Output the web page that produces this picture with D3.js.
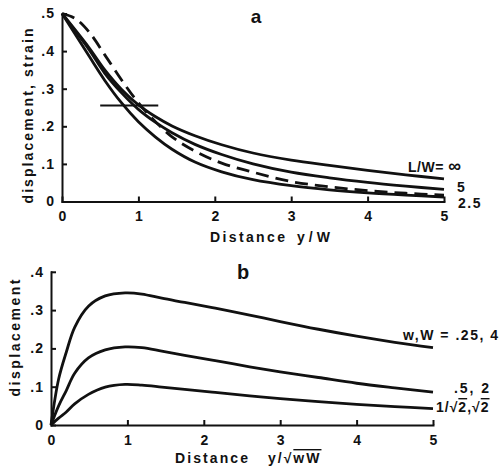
<!DOCTYPE html>
<html><head><meta charset="utf-8">
<script src="https://cdn.jsdelivr.net/npm/d3@7"></script>
<style>
body{margin:0;background:#fff;}
text{font-family:"Liberation Sans",Arial,Helvetica,sans-serif;font-weight:bold;fill:#111;}
</style></head>
<body><svg id="c" width="500" height="467"></svg>
<script>
// ---- Panel a data ----
const aX = [0, 0.35, 0.56, 0.78, 1.0, 1.22, 1.44, 1.74, 2.09, 2.5, 3, 3.5, 4, 4.5, 5];
const aInf = [0.5, 0.41, 0.35, 0.298, 0.257, 0.226, 0.201, 0.175, 0.151, 0.129, 0.11, 0.096, 0.083, 0.071, 0.06];
const a5   = [0.5, 0.405, 0.341, 0.289, 0.245, 0.211, 0.183, 0.152, 0.125, 0.1, 0.078, 0.063, 0.051, 0.041, 0.032];
const a25  = [0.5, 0.388, 0.322, 0.262, 0.212, 0.172, 0.139, 0.105, 0.079, 0.058, 0.042, 0.031, 0.023, 0.017, 0.012];
const aDashX = [0, 0.17, 0.35, 0.56, 0.78, 0.955, 1.13, 1.44, 1.74, 2.09, 2.5, 3, 3.5, 4, 4.5, 5];
const aDashY = [0.5, 0.487, 0.452, 0.39, 0.323, 0.274, 0.232, 0.172, 0.134, 0.102, 0.078, 0.053, 0.039, 0.029, 0.022, 0.017];
const aBar = {x0: 0.5, x1: 1.26, y: 0.255};
const aYTicks = [0, 0.1, 0.2, 0.3, 0.4, 0.5];
const aXTicks = [0, 1, 2, 3, 4, 5];
const aLabels = ["L/W= \u221E", "5", "2.5"];

// ---- Panel b data ----
const bX = [0, 0.1, 0.2, 0.31, 0.49, 0.71, 0.97, 1.19, 1.45, 1.75, 2.15, 2.6, 3, 3.5, 4, 4.5, 5];
const bTop = [0, 0.12, 0.19, 0.255, 0.31, 0.337, 0.345, 0.342, 0.331, 0.32, 0.305, 0.287, 0.27, 0.25, 0.232, 0.216, 0.202];
const bMid = [0, 0.05, 0.09, 0.135, 0.175, 0.196, 0.204, 0.202, 0.193, 0.182, 0.168, 0.152, 0.139, 0.124, 0.109, 0.097, 0.086];
const bBot = [0, 0.018, 0.034, 0.055, 0.08, 0.099, 0.106, 0.104, 0.099, 0.093, 0.085, 0.076, 0.069, 0.061, 0.054, 0.048, 0.043];
const bYTicks = [0, 0.1, 0.2, 0.3, 0.4];
const bXTicks = [0, 1, 2, 3, 4, 5];

const fmt = v => v === 0 ? "0" : d3.format(".1f")(v).replace(/^0/, "");
const svg = d3.select("#c");

function panel(g, xs, ys, xTicks, yTicks) {
  g.append("g").attr("transform", `translate(0,${ys(0)})`)
    .call(d3.axisBottom(xs).tickValues(xTicks).tickSizeInner(-5).tickSizeOuter(0).tickPadding(10).tickFormat(d3.format("d")))
    .call(s => { s.selectAll("path,line").attr("stroke", "#111").attr("stroke-width", 2);
                 s.selectAll("text").attr("font-size", 14).style("font-family", null); });
  g.append("g").attr("transform", `translate(${xs(0)},0)`)
    .call(d3.axisLeft(ys).tickValues(yTicks).tickSizeInner(-5).tickSizeOuter(0).tickPadding(7).tickFormat(fmt))
    .call(s => { s.selectAll("path,line").attr("stroke", "#111").attr("stroke-width", 2);
                 s.selectAll("text").attr("font-size", 14).attr("letter-spacing", 1); });
  g.selectAll(".domain").attr("stroke-linecap", "square");
}

// ---- Panel a ----
const xa = d3.scaleLinear().domain([0, 5]).range([62, 444]);
const ya = d3.scaleLinear().domain([0, 0.5]).range([201.5, 13.5]);
const ga = svg.append("g");
panel(ga, xa, ya, aXTicks, aYTicks);
const la = d3.line().x(d => xa(d[0])).y(d => ya(d[1])).curve(d3.curveCatmullRom.alpha(0.5));
[aInf, a5, a25].forEach(s => {
  ga.append("path").attr("d", la(aX.map((x, i) => [x, s[i]])))
    .attr("fill", "none").attr("stroke", "#111").attr("stroke-width", 2.8);
});
ga.append("path").attr("d", la(aDashX.map((x, i) => [x, aDashY[i]])))
  .attr("fill", "none").attr("stroke", "#111").attr("stroke-width", 2.8).attr("stroke-dasharray", "13,7");
ga.append("line").attr("x1", xa(aBar.x0)).attr("x2", xa(aBar.x1)).attr("y1", ya(aBar.y)).attr("y2", ya(aBar.y))
  .attr("stroke", "#111").attr("stroke-width", 2);
// labels
ga.append("text").attr("x", 408).attr("y", 172).attr("font-size", 14).attr("letter-spacing", 0.5)
  .text("L/W= ").append("tspan").attr("font-size", 18).text("\u221E");
ga.append("text").attr("x", 457).attr("y", 192).attr("font-size", 14).text(aLabels[1]);
ga.append("text").attr("x", 458).attr("y", 208).attr("font-size", 14).attr("letter-spacing", 1.5).text(aLabels[2]);
ga.append("text").attr("x", 256).attr("y", 23).attr("font-size", 19).attr("text-anchor", "middle").text("a");
ga.append("text").attr("x", 210).attr("y", 242).attr("font-size", 14).attr("textLength", 75).attr("lengthAdjust", "spacing").text("Distance");
ga.append("text").attr("x", 297).attr("y", 242).attr("font-size", 14).attr("textLength", 33).attr("lengthAdjust", "spacing").text("y/W");
ga.append("text").attr("transform", "translate(33,116) rotate(-90)").attr("text-anchor", "middle")
  .attr("font-size", 14).attr("textLength", 175).attr("lengthAdjust", "spacing").text("displacement, strain");

// ---- Panel b ----
const xb = d3.scaleLinear().domain([0, 5]).range([51, 433]);
const yb = d3.scaleLinear().domain([0, 0.4]).range([425, 271.8]);
const gb = svg.append("g");
panel(gb, xb, yb, bXTicks, bYTicks);
const lb = d3.line().x(d => xb(d[0])).y(d => yb(d[1])).curve(d3.curveCatmullRom.alpha(0.5));
[bTop, bMid, bBot].forEach(s => {
  gb.append("path").attr("d", lb(bX.map((x, i) => [x, s[i]])))
    .attr("fill", "none").attr("stroke", "#111").attr("stroke-width", 2.8);
});
gb.append("text").attr("x", 403).attr("y", 340).attr("font-size", 14).attr("textLength", 95).attr("lengthAdjust", "spacing").text("w,W = .25, 4");
gb.append("text").attr("x", 454).attr("y", 393).attr("font-size", 14).attr("textLength", 35).attr("lengthAdjust", "spacing").text(".5, 2");
const t3 = gb.append("text").attr("x", 436).attr("y", 412).attr("font-size", 14).attr("letter-spacing", 1);
t3.append("tspan").text("1/\u221A");
t3.append("tspan").style("text-decoration", "overline").text("2");
t3.append("tspan").text(",\u221A");
t3.append("tspan").style("text-decoration", "overline").text("2");
gb.append("text").attr("x", 243).attr("y", 279).attr("font-size", 20).attr("text-anchor", "middle").text("b");
gb.append("text").attr("x", 175).attr("y", 463).attr("font-size", 14).attr("textLength", 73).attr("lengthAdjust", "spacing").text("Distance");
const t4 = gb.append("text").attr("x", 268).attr("y", 463).attr("font-size", 14).attr("letter-spacing", 2);
t4.append("tspan").text("y/\u221A");
t4.append("tspan").style("text-decoration", "overline").text("wW");
gb.append("text").attr("transform", "translate(20,338) rotate(-90)").attr("text-anchor", "middle")
  .attr("font-size", 14).attr("textLength", 117).attr("lengthAdjust", "spacing").text("displacement");
</script></body></html>
